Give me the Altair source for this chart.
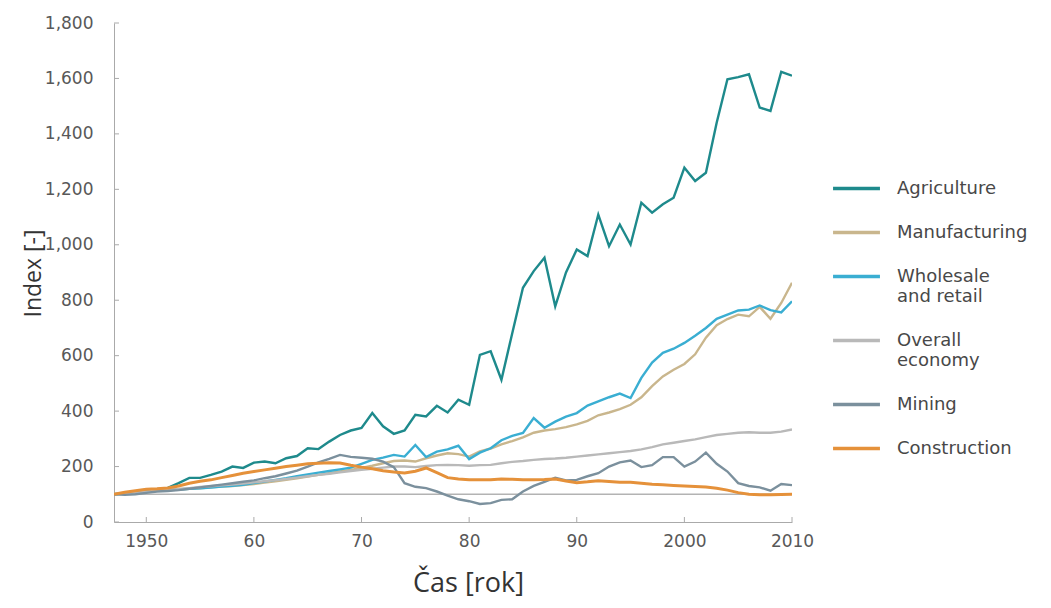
import altair as alt
import pandas as pd

years = list(range(1947, 2011))

agriculture = [100, 104, 110, 113, 118, 123, 140, 159, 159, 170,
               182, 200, 195, 214, 218, 212, 230, 238, 266, 263,
               290, 314, 330, 339, 393, 345, 318, 330, 387, 381,
               419, 395, 441, 423, 603, 616, 513, 680, 845, 905,
               953, 778, 900, 983, 959, 1109, 995, 1073, 1001, 1152,
               1116, 1146, 1170, 1278, 1230, 1260, 1440, 1597, 1605, 1615,
               1495, 1483, 1624, 1610]
manufacturing = [100, 104, 107, 110, 114, 116, 118, 120, 122, 125,
                 128, 130, 133, 137, 142, 147, 152, 158, 164, 170,
                 176, 182, 188, 195, 203, 212, 220, 222, 218, 230,
                 240, 248, 245, 236, 255, 265, 280, 292, 305, 322,
                 330, 335, 342, 352, 365, 385, 395, 407, 423, 450,
                 490, 525, 549, 570, 605, 665, 710, 732, 748, 742,
                 776, 733, 790, 863]
wholesale = [100, 103, 106, 110, 113, 115, 117, 120, 122, 124,
             128, 131, 134, 140, 146, 152, 158, 165, 172, 178,
             184, 190, 196, 210, 224, 232, 242, 236, 278, 234,
             254, 262, 275, 227, 250, 266, 295, 311, 321, 375,
             340, 362, 380, 393, 420, 435, 450, 463, 447, 520,
             575, 610, 625, 646, 672, 700, 733, 748, 763, 766,
             781, 764, 756, 796]
overall = [100, 103, 105, 109, 113, 116, 119, 122, 126, 129,
           132, 135, 139, 143, 147, 151, 155, 160, 165, 170,
           174, 179, 184, 188, 192, 196, 200, 200, 198, 202,
           205, 206, 205, 203, 205, 206, 212, 217, 220, 224,
           227, 229, 232, 236, 240, 244, 248, 252, 256, 262,
           270, 280, 286, 292, 298, 306, 314, 318, 322, 324,
           322, 322, 326, 334]
mining = [100, 98, 100, 105, 110, 112, 115, 120, 125, 130,
          135, 140, 145, 150, 158, 165, 175, 185, 200, 215,
          228, 242, 235, 232, 228, 218, 198, 140, 127, 122,
          110, 95, 82, 75, 65, 68, 80, 82, 110, 130,
          145, 160, 150, 152, 165, 176, 200, 215, 222, 198,
          205, 234, 234, 200, 218, 250, 210, 182, 140, 130,
          125, 113, 137, 133]
construction = [100, 107, 113, 118, 120, 123, 130, 140, 147, 152,
                160, 168, 176, 182, 188, 194, 200, 205, 210, 212,
                214, 213, 205, 198, 192, 185, 180, 177, 183, 195,
                178, 160, 155, 152, 152, 152, 155, 154, 152, 152,
                153, 155, 148, 142, 145, 149, 146, 143, 143, 140,
                136, 134, 132, 130, 128, 126, 122, 115, 106, 100,
                98, 98, 99, 100]

series_names = ["Agriculture", "Manufacturing", "Wholesale and retail",
                "Overall economy", "Mining", "Construction"]
series_colors = ["#1e8a8c", "#c9b68d", "#3aaed2", "#b9b9b9", "#7b909d", "#e5913a"]
series_values = [agriculture, manufacturing, wholesale, overall, mining, construction]

y_ticks = [0, 200, 400, 600, 800, 1000, 1200, 1400, 1600, 1800]
x_ticks = [1950, 1960, 1970, 1980, 1990, 2000, 2010]
base_index = 100

rows = []
for name, vals in zip(series_names, series_values):
    for yr, v in zip(years, vals):
        rows.append({"year": yr, "value": v, "series": name})
df = pd.DataFrame(rows)

W, H = 678, 499
AXIS_GREY = "#aaaaaa"

x_scale = alt.Scale(domain=[1947, 2010], nice=False, zero=False)
y_scale = alt.Scale(domain=[0, 1800], nice=False, zero=True)

label_expr_x = ("(datum.value == 1950 || datum.value >= 2000) ? toString(datum.value) : "
                "substring(toString(datum.value), 2)")
legend_label_expr = ("datum.label == 'Wholesale and retail' ? ['Wholesale', 'and retail'] : "
                     "datum.label == 'Overall economy' ? ['Overall', 'economy'] : datum.label")

x_axis = alt.Axis(values=x_ticks, labelExpr=label_expr_x, title="Čas [rok]",
                  ticks=False, labelPadding=11, labelFlush=False, titleFontSize=27,
                  titleX=354, titleY=61, titleAlign="center", titleBaseline="middle")
y_axis = alt.Axis(values=y_ticks, format=",d", title="Index [-]",
                  ticks=False, labelPadding=21, titleFontSize=23,
                  titleX=-81, titleY=250, titleAngle=270,
                  titleAlign="center", titleBaseline="middle")

base_rule = alt.Chart(pd.DataFrame({"b": [base_index]})).mark_rule(
    color="#b3b3b3", strokeWidth=1.5
).encode(y=alt.Y("b:Q", scale=y_scale, axis=y_axis, title="Index [-]"))

lines = alt.Chart(df).mark_line(clip=True).encode(
    x=alt.X("year:Q", scale=x_scale, axis=x_axis, title="Čas [rok]"),
    y=alt.Y("value:Q", scale=y_scale, axis=y_axis, title="Index [-]"),
    color=alt.Color("series:N", sort=series_names,
                    scale=alt.Scale(domain=series_names, range=series_colors),
                    legend=alt.Legend(title=None, orient="none", legendX=717, legendY=140,
                                      symbolType="stroke", symbolSize=2200, symbolStrokeWidth=3.5,
                                      labelFont="DejaVu Sans", labelFontSize=18, labelColor="#484848",
                                      labelOffset=15, rowPadding=9,
                                      labelLimit=300, labelExpr=legend_label_expr)),
    strokeWidth=alt.condition(alt.datum.series == "Construction", alt.value(3.0), alt.value(2.4)),
    order=alt.Order("year:Q"),
)

ytick_rules = alt.Chart(pd.DataFrame({"t": y_ticks})).mark_rule(color=AXIS_GREY).encode(
    y=alt.Y("t:Q", scale=y_scale, axis=y_axis, title="Index [-]"),
    x=alt.value(0), x2=alt.value(5))
xtick_rules = alt.Chart(pd.DataFrame({"t": x_ticks})).mark_rule(color=AXIS_GREY).encode(
    x=alt.X("t:Q", scale=x_scale, axis=x_axis, title="Čas [rok]"),
    y=alt.value(H - 5), y2=alt.value(H))

chart = alt.layer(base_rule, lines, ytick_rules, xtick_rules).properties(
    width=W, height=H,
    padding={"left": 106, "top": 15, "right": 250, "bottom": 84},
    autosize=alt.AutoSizeParams(type="none"),
).configure_view(stroke=None).configure_axis(
    grid=False, domainColor=AXIS_GREY, domainWidth=1,
    labelFont="DejaVu Sans", labelFontSize=17, labelColor="#585858",
    titleFont="Open Sans", titleColor="#333333", titleFontWeight="normal",
)

chart.save("out.html", embed_options={"renderer": "svg", "actions": False})
